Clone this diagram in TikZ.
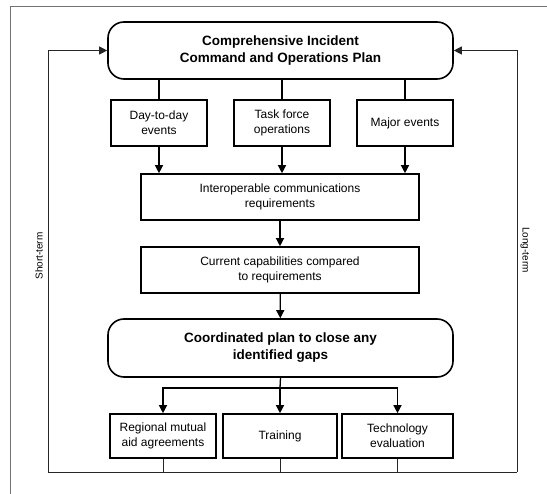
\documentclass[tikz,border=0pt]{standalone}
\usepackage{fontspec}
\setmainfont{Liberation Sans}
\usetikzlibrary{arrows.meta}

\tikzset{
  stepbox/.style={draw, line width=1.6pt, align=center, inner sep=2pt,
    font=\fontsize{12}{15}\selectfont},
  planbox/.style={stepbox, rounded corners=16pt,
    font=\fontsize{13.5}{17}\selectfont\bfseries},
  link/.style={line width=1.3pt},
  arrow/.style={link, -{Triangle[length=8pt,width=8pt]}},
  feed/.style={line width=0.8pt, black!85},
  frame/.style={line width=0.6pt, black!55},
}

\begin{document}
\begin{tikzpicture}[x=1pt,y=-1pt]
\useasboundingbox (0,0) rectangle (547,494);

% scanned page frame
\draw[frame] (10,494) -- (10,6) -- (547,6);

% plan and event types
\node[planbox, minimum width=345pt, minimum height=57pt] (cmd) at (280.5,50.5)
  {Comprehensive Incident\\Command and Operations Plan};
\node[stepbox, minimum width=96pt, minimum height=46pt] (day) at (159,123) {Day-to-day\\events};
\node[stepbox, minimum width=96pt, minimum height=46pt] (task) at (282,123) {Task force\\operations};
\node[stepbox, minimum width=96pt, minimum height=46pt] (major) at (405,123) {Major events};

% requirements
\node[stepbox, minimum width=278pt, minimum height=46pt] (inter) at (280,197)
  {Interoperable communications\\requirements};
\node[stepbox, minimum width=278pt, minimum height=46pt] (current) at (280,270)
  {Current capabilities compared\\to requirements};

% closing the gaps
\node[planbox, minimum width=345pt, minimum height=58pt] (coord) at (280.5,348)
  {Coordinated plan to close any\\identified gaps};
\node[stepbox, minimum width=106pt, minimum height=44pt] (aid) at (163,436)
  {Regional mutual\\aid agreements};
\node[stepbox, minimum width=114pt, minimum height=44pt] (train) at (280,436) {Training};
\node[stepbox, minimum width=111pt, minimum height=44pt] (tech) at (397.5,436)
  {Technology\\evaluation};

% connectors
\foreach \n in {day,task,major} {
  \draw[link] (\n.north |- cmd.south) -- (\n.north);
  \draw[arrow] (\n.south) -- (\n.south |- inter.north);
}
\draw[arrow] (inter) -- (current);
\draw[arrow] (current) -- (coord);

\coordinate (split) at (280,388);
\draw[link] (coord.south) -- (split);
\draw[arrow] (split) -| (aid.north);
\draw[arrow] (split) -- (train.north);
\draw[arrow] (split) -| (tech.north);

% feedback loops
\coordinate (sw) at (48,472);
\coordinate (se) at (517,472);
\foreach \n in {aid,train,tech}
  \draw[feed] (\n.south) -- (\n.south |- sw);
\draw[feed] (sw) -- (se);
\draw[feed, -{Triangle[length=8pt,width=8pt]}] (sw) |- (cmd.west);
\draw[feed, -{Triangle[length=8pt,width=8pt]}] (se) |- (cmd.east);

\node[rotate=90, font=\fontsize{10}{12}\selectfont] (short) at (39,256) {Short-term};
\node[rotate=-90, font=\fontsize{10}{12}\selectfont] (long) at (525,250) {Long-term};

\end{tikzpicture}
\end{document}
